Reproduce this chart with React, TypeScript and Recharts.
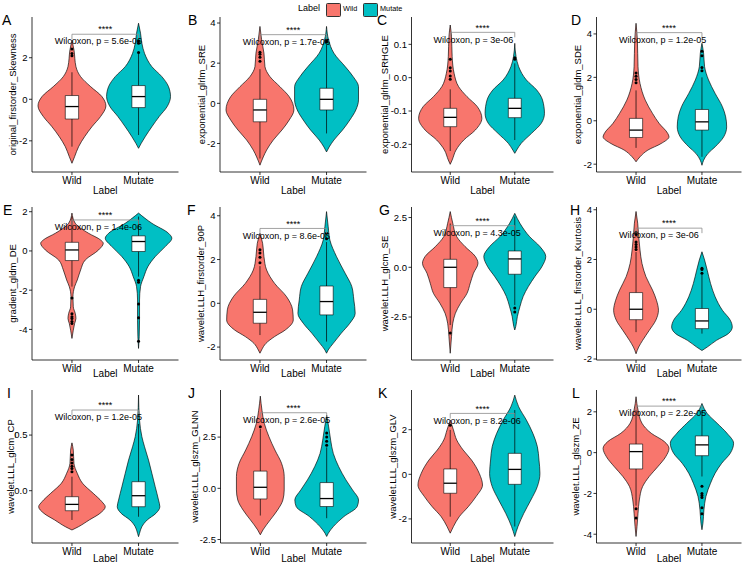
import React from 'react';
import { ComposedChart, Area, XAxis, YAxis, Scatter, ReferenceArea, ReferenceLine, ReferenceDot } from 'recharts';

type Pt = [number, number]; // [value, violin half width in category units]

const WILD = '#F8766D';
const MUTATE = '#00BFC4';
const FONT = '"Liberation Sans", Arial, Helvetica, sans-serif';

const groups = ['Wild', 'Mutate'];
const letters = ['A', 'B', 'C', 'D', 'E', 'F', 'G', 'H', 'I', 'J', 'K', 'L'];
const features = [
  'original_firstorder_Skewness', 'exponential_glrlm_SRE', 'exponential_glrlm_SRHGLE', 'exponential_gldm_SDE',
  'gradient_gldm_DE', 'wavelet.LLH_firstorder_90P', 'wavelet.LLH_glcm_SE', 'wavelet.LLL_firstorder_Kurtosis',
  'wavelet.LLL_glcm_CP', 'wavelet.LLL_glszm_GLNN', 'wavelet.LLL_glszm_GLV', 'wavelet.LLL_glszm_ZE',
];
const pValues = ['5.6e-06', '1.7e-06', '3e-06', '1.2e-05', '1.4e-06', '8.6e-06', '4.3e-05', '3e-06', '1.2e-05', '2.6e-05', '8.2e-06', '2.2e-05'];

const yTicks = [
  [-2, 0, 2], [-2, 0, 2, 4], [-0.2, -0.1, 0, 0.1], [-2, 0, 2, 4],
  [-4, -2, 0, 2], [-2, 0, 2, 4], [-2.5, 0, 2.5], [-2, 0, 2, 4],
  [0, 0.5], [-2.5, 0, 2.5], [-2, 0, 2], [-4, -2, 0, 2],
];
const yDecimals = [0, 0, 1, 0, 0, 0, 1, 0, 1, 1, 0, 0];
const yDomains: [number, number][] = [
  [-3.5, 3.96], [-3.42, 4.3], [-0.283, 0.182], [-2.36, 4.78],
  [-5.56, 2.24], [-2.59, 4.4], [-4.66, 3.03], [-2.04, 4.11],
  [-0.47, 0.905], [-2.67, 4.8], [-3.08, 3.78], [-4.43, 3.07],
];
const brackets = [3.13, 3.42, 0.136, 4.06, 1.58, 3.42, 2.09, 3.26, 0.725, 3.69, 2.73, 2.28];

const wildViolins: Pt[][] = [
  [[2.85, 0], [2.38, 0.03], [1.57, 0.06], [1.09, 0.13], [0.61, 0.28], [0.13, 0.45], [-0.32, 0.51], [-0.83, 0.43], [-1.32, 0.3], [-1.8, 0.19], [-2.28, 0.1], [-2.76, 0.04], [-3.08, 0]],
  [[3.83, 0], [3.17, 0.025], [2.5, 0.06], [1.83, 0.075], [1.33, 0.15], [0.83, 0.3], [0.33, 0.44], [-0.33, 0.51], [-0.83, 0.44], [-1.33, 0.33], [-1.83, 0.2], [-2.33, 0.1], [-2.67, 0.05], [-3.08, 0]],
  [[0.158, 0], [0.123, 0.02], [0.063, 0.03], [0.013, 0.06], [-0.027, 0.13], [-0.057, 0.26], [-0.087, 0.42], [-0.122, 0.49], [-0.157, 0.39], [-0.187, 0.21], [-0.217, 0.09], [-0.247, 0.03], [-0.26, 0]],
  [[4.49, 0], [3.72, 0.02], [2.49, 0.03], [1.72, 0.06], [0.95, 0.14], [0.34, 0.25], [-0.12, 0.35], [-0.58, 0.48], [-0.74, 0.5], [-1.05, 0.38], [-1.35, 0.18], [-1.66, 0.06], [-1.89, 0]],
  [[1.93, 0], [1.41, 0.05], [0.9, 0.25], [0.56, 0.43], [0.39, 0.47], [0.05, 0.4], [-0.46, 0.2], [-0.97, 0.13], [-1.48, 0.08], [-1.82, 0.04], [-2.33, 0.015], [-2.85, 0.02], [-3.19, 0.05], [-3.44, 0.06], [-3.7, 0.04], [-4.04, 0.02], [-4.46, 0]],
  [[3.2, 0], [2.74, 0.04], [2.13, 0.06], [1.52, 0.1], [0.91, 0.22], [0.3, 0.4], [-0.3, 0.49], [-0.76, 0.5], [-1.22, 0.38], [-1.52, 0.22], [-1.83, 0.09], [-2.13, 0.025], [-2.28, 0]],
  [[2.8, 0], [2.21, 0.04], [1.54, 0.1], [1.04, 0.23], [0.54, 0.39], [0.2, 0.43], [-0.3, 0.36], [-0.8, 0.31], [-1.31, 0.26], [-1.81, 0.16], [-2.31, 0.08], [-2.81, 0.04], [-3.48, 0.02], [-4.32, 0]],
  [[3.93, 0], [3.46, 0.025], [2.92, 0.04], [2.38, 0.06], [1.84, 0.09], [1.31, 0.15], [0.77, 0.25], [0.36, 0.31], [-0.04, 0.34], [-0.44, 0.3], [-0.85, 0.2], [-1.25, 0.1], [-1.52, 0.04], [-1.79, 0]],
  [[0.43, 0], [0.365, 0.02], [0.245, 0.03], [0.156, 0.08], [0.066, 0.16], [-0.024, 0.32], [-0.099, 0.45], [-0.144, 0.5], [-0.204, 0.42], [-0.263, 0.26], [-0.323, 0.1], [-0.353, 0]],
  [[4.5, 0], [3.81, 0.025], [3.17, 0.06], [2.52, 0.13], [1.87, 0.22], [1.22, 0.32], [0.57, 0.36], [-0.08, 0.36], [-0.57, 0.34], [-1.06, 0.26], [-1.54, 0.15], [-2.03, 0.04], [-2.27, 0]],
  [[2.43, 0], [1.99, 0.05], [1.54, 0.1], [1.09, 0.2], [0.64, 0.33], [0.04, 0.45], [-0.48, 0.5], [-1.0, 0.4], [-1.45, 0.28], [-1.9, 0.14], [-2.34, 0.05], [-2.64, 0]],
  [[2.74, 0], [2.09, 0.03], [1.44, 0.09], [0.95, 0.23], [0.54, 0.43], [0.21, 0.5], [-0.2, 0.45], [-0.69, 0.33], [-1.17, 0.2], [-1.66, 0.1], [-2.32, 0.05], [-2.97, 0.03], [-3.62, 0.015], [-4.11, 0]],
];

const mutateViolins: Pt[][] = [
  [[3.66, 0], [3.18, 0.03], [2.7, 0.05], [2.21, 0.09], [1.57, 0.2], [1.09, 0.35], [0.61, 0.45], [0.13, 0.48], [-0.35, 0.43], [-0.83, 0.31], [-1.32, 0.2], [-1.8, 0.1], [-2.12, 0.04], [-2.36, 0]],
  [[3.83, 0], [3.17, 0.03], [2.5, 0.11], [1.83, 0.28], [1.33, 0.4], [0.83, 0.48], [0.17, 0.48], [-0.33, 0.44], [-0.83, 0.35], [-1.33, 0.24], [-1.83, 0.11], [-2.17, 0.04], [-2.42, 0]],
  [[0.103, 0], [0.063, 0.02], [0.033, 0.06], [-0.007, 0.18], [-0.037, 0.34], [-0.067, 0.43], [-0.107, 0.46], [-0.137, 0.41], [-0.167, 0.26], [-0.197, 0.1], [-0.217, 0.03], [-0.227, 0]],
  [[3.57, 0], [3.11, 0.025], [2.49, 0.04], [1.88, 0.1], [1.26, 0.2], [0.65, 0.31], [0.18, 0.36], [-0.28, 0.375], [-0.74, 0.33], [-1.2, 0.2], [-1.51, 0.09], [-1.82, 0.025], [-2.05, 0]],
  [[1.93, 0], [1.41, 0.2], [0.9, 0.45], [0.65, 0.5], [0.22, 0.4], [-0.29, 0.25], [-0.8, 0.14], [-1.31, 0.08], [-1.82, 0.03], [-2.5, 0.015], [-3.53, 0.015], [-4.38, 0.01], [-4.97, 0]],
  [[4.19, 0], [3.5, 0.025], [2.89, 0.05], [2.13, 0.15], [1.37, 0.28], [0.76, 0.38], [0.15, 0.41], [-0.46, 0.43], [-0.91, 0.35], [-1.37, 0.22], [-1.83, 0.1], [-2.13, 0.025], [-2.28, 0]],
  [[2.71, 0], [2.21, 0.08], [1.54, 0.23], [1.04, 0.39], [0.54, 0.48], [0.03, 0.42], [-0.47, 0.31], [-0.97, 0.21], [-1.47, 0.13], [-1.98, 0.08], [-2.48, 0.04], [-2.98, 0.015], [-3.15, 0]],
  [[2.31, 0], [1.98, 0.04], [1.57, 0.08], [1.04, 0.13], [0.5, 0.2], [-0.04, 0.31], [-0.44, 0.43], [-0.71, 0.46], [-0.98, 0.4], [-1.25, 0.22], [-1.52, 0.08], [-1.66, 0]],
  [[0.86, 0], [0.635, 0.015], [0.485, 0.05], [0.395, 0.09], [0.275, 0.15], [0.156, 0.2], [0.036, 0.25], [-0.084, 0.3], [-0.144, 0.32], [-0.204, 0.26], [-0.263, 0.13], [-0.323, 0.05], [-0.383, 0.015], [-0.413, 0]],
  [[3.57, 0], [3.0, 0.03], [2.35, 0.06], [1.7, 0.1], [1.06, 0.18], [0.41, 0.29], [-0.08, 0.39], [-0.57, 0.48], [-0.89, 0.46], [-1.38, 0.26], [-1.87, 0.1], [-2.19, 0.025], [-2.35, 0]],
  [[3.55, 0], [3.03, 0.06], [2.43, 0.18], [1.84, 0.28], [1.24, 0.35], [0.64, 0.375], [0.04, 0.39], [-0.55, 0.35], [-1.15, 0.25], [-1.75, 0.14], [-2.34, 0.05], [-2.79, 0]],
  [[2.41, 0], [1.92, 0.08], [1.44, 0.23], [0.95, 0.38], [0.46, 0.48], [-0.03, 0.43], [-0.52, 0.3], [-1.01, 0.2], [-1.5, 0.13], [-2.15, 0.06], [-2.81, 0.03], [-3.46, 0.015], [-3.78, 0]],
];

// [lower whisker, Q1, median, Q3, upper whisker]
const wildBoxes = [
  [-2.28, -0.95, -0.35, 0.18, 1.3], [-2.75, -0.92, -0.33, 0.2, 1.7], [-0.22, -0.147, -0.119, -0.092, -0.035], [-1.25, -0.77, -0.43, 0.11, 1.4],
  [-1.82, -0.49, 0.05, 0.44, 1.75], [-1.45, -0.91, -0.41, 0.18, 1.7], [-2.9, -1.02, 0.0, 0.4, 2.2], [-0.92, -0.42, 0.0, 0.67, 2.3],
  [-0.263, -0.18, -0.123, -0.054, 0.126], [-1.33, -0.52, 0.05, 0.84, 2.9], [-1.9, -0.85, -0.4, 0.24, 1.99], [-2.6, -0.8, 0.05, 0.42, 2.09],
];
const mutateBoxes = [
  [-1.72, -0.4, 0.13, 0.66, 2.2], [-1.5, -0.33, 0.2, 0.75, 2.9], [-0.187, -0.12, -0.092, -0.062, 0.043], [-1.66, -0.43, -0.05, 0.52, 2.0],
  [-1.31, -0.03, 0.48, 0.77, 1.75], [-1.75, -0.53, 0.08, 0.79, 2.8], [-1.9, -0.35, 0.42, 0.82, 2.55], [-0.98, -0.78, -0.47, 0.03, 1.4],
  [-0.234, -0.144, -0.045, 0.081, 0.6], [-1.46, -0.89, -0.5, 0.28, 2.0], [-2.34, -0.45, 0.22, 0.94, 2.88], [-1.17, -0.15, 0.38, 0.82, 2.09],
];
const wildOutliers = [
  [2.1, 2.2, 2.42], [2.1, 2.3, 2.45, 2.55], [-0.005, 0.005, 0.02, 0.03, 0.055], [1.75, 1.9, 2.05, 2.2],
  [-2.4, -3.2, -3.35, -3.45, -3.6, -3.7], [1.85, 2.1, 2.3, 2.45], [-3.3], [2.4, 2.5, 2.6, 2.7, 3.0, 3.1],
  [0.17, 0.2, 0.22, 0.25, 0.28, 0.32], [3.0], [2.2], [-2.75, -3.2],
];
const mutateOutliers = [
  [2.25, 2.7, 2.8], [3.05, 3.15], [0.055, 0.06], [2.3, 2.45, 3.0, 3.2],
  [-1.5, -1.6, -2.7, -3.4, -4.6], [2.95, 3.2], [-2.05, -2.25], [1.45, 1.6, 1.65],
  [], [2.1, 2.3, 2.5, 2.7], [], [-1.65, -2.0, -2.1, -2.2, -2.7, -3.0],
];

// layout (pixels)
const CELL_W = 187.5;
const rowCellTop = [0, 185, 368];
const rowPlotTop = [17, 207, 390];
const rowPlotBottom = [172, 360, 543];
const rowTitleGap = [18, 13, 15];
const axisXs = [32, 219.5, 411.5, 596, 32, 219.5, 411.5, 596, 32, 220, 411.5, 596];
const titleXs = [13, 201, 385, 577, 13, 200, 385, 577, 11, 194, 393, 575];
const letterXs = [2, 188, 377, 571, 3, 187, 379, 570, 7, 188, 378, 572];

const BOX_HW = 0.1;
const X_AXIS_H = 30;

const toBand = (pts: Pt[], c: number) => pts.map(([y, w]) => ({ y, band: [c - w, c + w] }));

function Panel({ i }: { i: number }) {
  const row = Math.floor(i / 4);
  const col = i % 4;
  const cellLeft = col * CELL_W;
  const cellTop = rowCellTop[row];
  const plotTop = rowPlotTop[row];
  const plotBottom = rowPlotBottom[row];
  const plotRight = cellLeft + 178.5;
  const yw = axisXs[i] - cellLeft;
  const height = plotBottom - cellTop + X_AXIS_H;
  const [lo, hi] = yDomains[i];
  const pxPerUnit = (plotBottom - plotTop) / (hi - lo);
  const tip = 5 / pxPerUnit;
  const b = brackets[i];
  const xTitleX = (axisXs[i] + plotRight) / 2 - cellLeft;
  const xTitleY = plotBottom - cellTop + rowTitleGap[row];
  const yTitleX = titleXs[i] - cellLeft;
  const yTitleY = (plotTop + plotBottom) / 2 - cellTop;

  const series = [
    { c: 1, fill: WILD, violin: wildViolins[i], box: wildBoxes[i], out: wildOutliers[i] },
    { c: 2, fill: MUTATE, violin: mutateViolins[i], box: mutateBoxes[i], out: mutateOutliers[i] },
  ];

  return (
    <div style={{ position: 'absolute', left: cellLeft, top: cellTop }}>
      <ComposedChart
        layout="vertical"
        width={CELL_W}
        height={height}
        margin={{ top: plotTop - cellTop, right: CELL_W - (plotRight - cellLeft), bottom: 0, left: 0 }}
      >
        <XAxis
          type="number"
          dataKey="x"
          domain={[0.4, 2.6]}
          ticks={[1, 2]}
          tickFormatter={(v: number) => groups[v - 1]}
          height={X_AXIS_H}
          tickSize={3}
          tick={{ fontSize: 10, fill: '#000' }}
          axisLine={{ stroke: '#000', strokeWidth: 0.8 }}
          tickLine={{ stroke: '#000', strokeWidth: 0.8 }}
          allowDataOverflow
          label={() => (
            <text x={xTitleX} y={xTitleY} dy="0.355em" textAnchor="middle" fontSize={10} fill="#000">Label</text>
          )}
        />
        <YAxis
          type="number"
          dataKey="y"
          domain={[lo, hi]}
          reversed
          ticks={yTicks[i]}
          tickFormatter={(v: number) => v.toFixed(yDecimals[i])}
          width={yw}
          tickSize={3}
          tickMargin={1.5}
          tick={{ fontSize: 9.5, fill: '#000' }}
          axisLine={{ stroke: '#000', strokeWidth: 0.8 }}
          tickLine={{ stroke: '#000', strokeWidth: 0.8 }}
          allowDataOverflow
          label={() => (
            <text
              x={yTitleX}
              y={yTitleY}
              dy="0.355em"
              textAnchor="middle"
              fontSize={9.5}
              fill="#000"
              transform={`rotate(-90 ${yTitleX} ${yTitleY})`}
            >
              {features[i]}
            </text>
          )}
        />
        {series.map((s) => (
          <Area
            key={`v${s.c}`}
            data={toBand(s.violin, s.c)}
            dataKey="band"
            type="monotone"
            fill={s.fill}
            fillOpacity={1}
            stroke="#000"
            strokeWidth={0.65}
            dot={false}
            activeDot={false}
            isAnimationActive={false}
            zIndex={100}
          />
        ))}
        {series.map((s) => (
          <ReferenceLine
            key={`w${s.c}`}
            segment={[{ x: s.c, y: s.box[0] }, { x: s.c, y: s.box[4] }]}
            stroke="#000"
            strokeWidth={0.7}
            zIndex={200}
          />
        ))}
        {series.map((s) => (
          <ReferenceArea
            key={`b${s.c}`}
            x1={s.c - BOX_HW}
            x2={s.c + BOX_HW}
            y1={s.box[1]}
            y2={s.box[3]}
            fill="#fff"
            fillOpacity={1}
            stroke="#000"
            strokeWidth={0.6}
            zIndex={300}
          />
        ))}
        {series.map((s) => (
          <ReferenceLine
            key={`m${s.c}`}
            segment={[{ x: s.c - BOX_HW, y: s.box[2] }, { x: s.c + BOX_HW, y: s.box[2] }]}
            stroke="#000"
            strokeWidth={1.3}
            zIndex={400}
          />
        ))}
        {series.map((s) => (
          <Scatter
            key={`o${s.c}`}
            data={s.out.map((v) => ({ x: s.c, y: v }))}
            isAnimationActive={false}
            zIndex={600}
            shape={(p: any) => <circle cx={p.cx} cy={p.cy} r={1.5} fill="#000" />}
          />
        ))}
        <ReferenceLine segment={[{ x: 1, y: b }, { x: 2, y: b }]} stroke="#8c8c8c" strokeWidth={0.8} zIndex={700} />
        <ReferenceLine segment={[{ x: 1, y: b }, { x: 1, y: b - tip }]} stroke="#8c8c8c" strokeWidth={0.8} zIndex={700} />
        <ReferenceLine segment={[{ x: 2, y: b }, { x: 2, y: b - tip }]} stroke="#8c8c8c" strokeWidth={0.8} zIndex={700} />
        <ReferenceDot
          x={1.5}
          y={b}
          r={0}
          fill="none"
          stroke="none"
          zIndex={800}
          label={(p: any) => (
            <text x={p.viewBox.x} y={p.viewBox.y - 5} dy="0.355em" textAnchor="middle" fontSize={9} fill="#000">****</text>
          )}
        />
        <ReferenceDot
          x={0.74}
          y={b}
          r={0}
          fill="none"
          stroke="none"
          zIndex={800}
          label={(p: any) => (
            <text x={p.viewBox.x} y={p.viewBox.y + 7} dy="0.355em" textAnchor="start" fontSize={9} fill="#000">
              {`Wilcoxon, p = ${pValues[i]}`}
            </text>
          )}
        />
      </ComposedChart>
      <div
        style={{
          position: 'absolute',
          left: letterXs[i] - cellLeft,
          top: plotTop - cellTop + 3 - 7,
          fontSize: 14,
          lineHeight: '14px',
          color: '#000',
        }}
      >
        {letters[i]}
      </div>
    </div>
  );
}

export default function App() {
  return (
    <div
      style={{
        position: 'absolute',
        left: 0,
        top: 0,
        width: 750,
        height: 563,
        background: '#fff',
        fontFamily: FONT,
        overflow: 'hidden',
      }}
    >
      {letters.map((_, i) => (
        <Panel key={i} i={i} />
      ))}
      <div style={{ position: 'absolute', left: 298, top: 3, fontSize: 9, lineHeight: '10px' }}>Label</div>
      <div style={{ position: 'absolute', left: 326, top: 3, width: 13, height: 12, background: WILD, border: '0.5px solid #333', borderRadius: 1.5 }} />
      <div style={{ position: 'absolute', left: 343, top: 4, fontSize: 7.3, lineHeight: '10px' }}>Wild</div>
      <div style={{ position: 'absolute', left: 363, top: 3, width: 13, height: 12, background: MUTATE, border: '0.5px solid #333', borderRadius: 1.5 }} />
      <div style={{ position: 'absolute', left: 380, top: 4, fontSize: 7.3, lineHeight: '10px' }}>Mutate</div>
    </div>
  );
}
